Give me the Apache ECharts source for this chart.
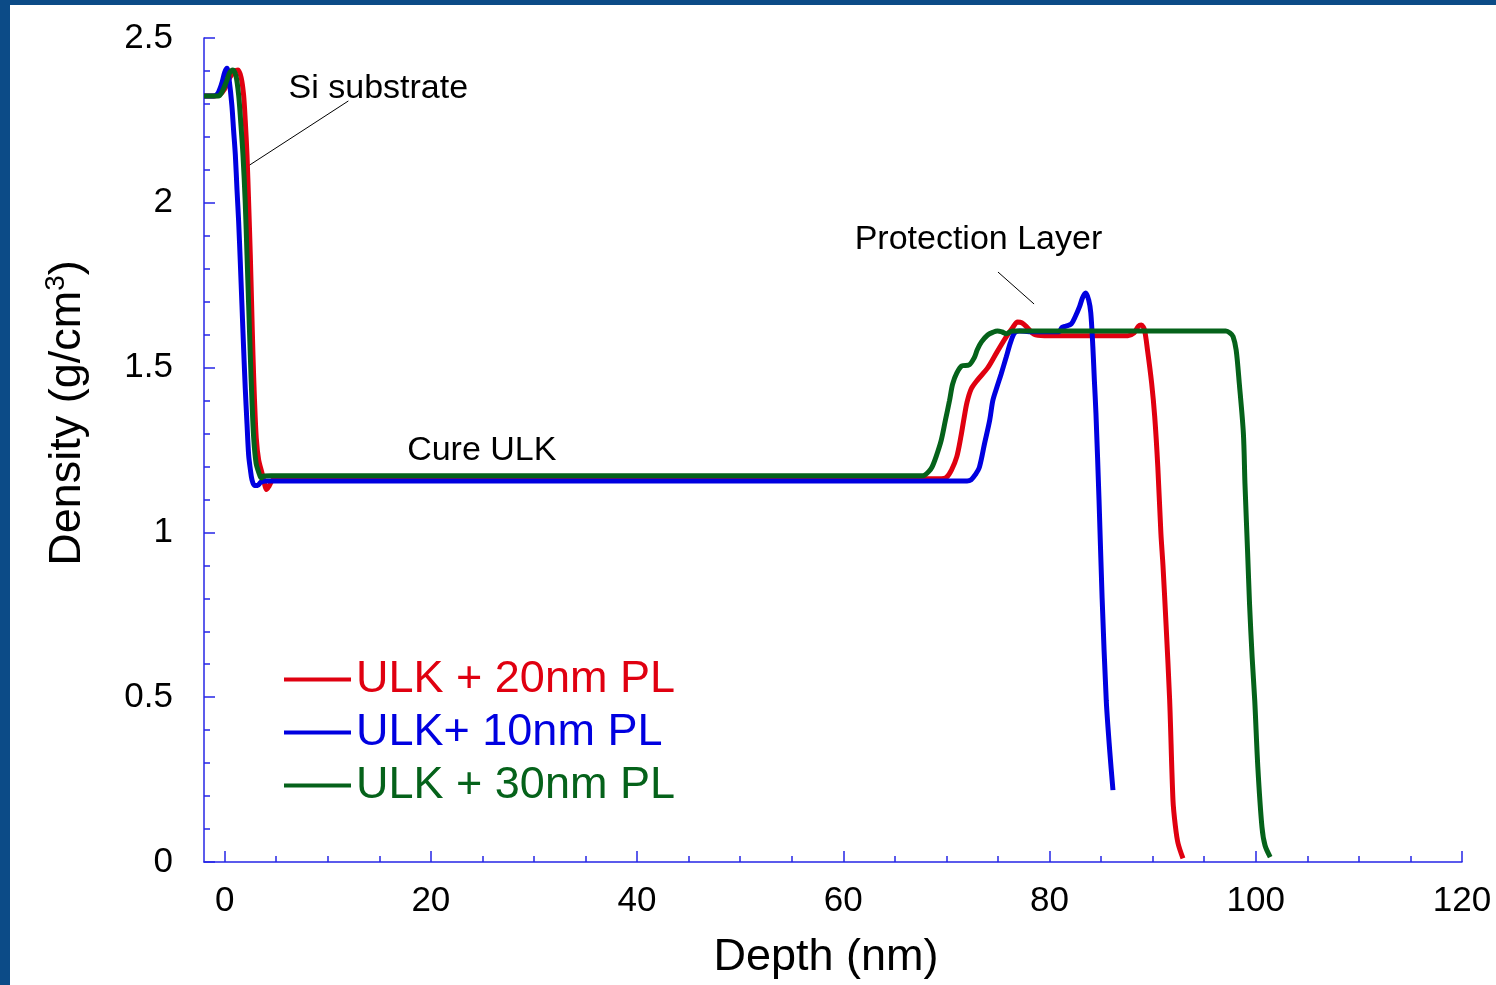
<!DOCTYPE html>
<html>
<head>
<meta charset="utf-8">
<script src="https://cdn.jsdelivr.net/npm/echarts@6/dist/echarts.min.js"></script>
<style>
  html, body { margin: 0; padding: 0; background: #0c4b87; }
  #chart { position: absolute; left: 10px; top: 5px; width: 1486px; height: 980px; background: #fff; }
</style>
</head>
<body>
<div id="chart"></div>
<script>
// depth (nm), density (g/cm3)
const red20 = [
  [-2,2.324],[-1,2.324],[-0.5,2.327],[0,2.345],[0.5,2.38],[1.0,2.40],[1.3,2.403],[1.6,2.38],[1.84,2.327],
  [2.0,2.25],[2.17,2.145],[2.33,2.0],[2.49,1.842],[2.62,1.69],[2.75,1.538],[2.9,1.40],[3.07,1.286],
  [3.3,1.22],[3.6,1.183],[3.85,1.15],[4.05,1.13],[4.3,1.14],[4.7,1.16],[5.5,1.163],[30,1.163],[60,1.163],
  [69.5,1.163],[70.0,1.167],[70.5,1.19],[71.0,1.229],[71.4,1.29],[71.7,1.345],[72.0,1.395],[72.4,1.435],
  [73.0,1.462],[74.0,1.499],[74.9,1.547],[75.8,1.593],[76.4,1.62],[76.9,1.638],[77.3,1.636],[77.8,1.623],
  [78.5,1.601],[79.5,1.597],[87.6,1.597],[88.2,1.605],[88.6,1.625],[88.9,1.629],[89.2,1.615],[89.5,1.553],
  [89.9,1.453],[90.2,1.351],[90.5,1.199],[90.8,0.997],[91.0,0.90],[91.3,0.72],[91.65,0.49],[91.97,0.188],
  [92.2,0.11],[92.46,0.057],[92.94,0.011]
];
const blue10 = [
  [-2,2.324],[-1.1,2.324],[-0.7,2.33],[-0.3,2.36],[0,2.395],[0.23,2.408],[0.45,2.37],[0.7,2.297],
  [0.87,2.22],[1.04,2.145],[1.2,2.04],[1.36,1.943],[1.52,1.82],[1.68,1.69],[1.84,1.56],[2.0,1.438],
  [2.17,1.33],[2.33,1.235],[2.5,1.19],[2.65,1.16],[2.9,1.142],[3.2,1.142],[3.5,1.152],[4.0,1.156],
  [30,1.156],[60,1.156],[72.0,1.156],[72.4,1.16],[72.8,1.175],[73.2,1.198],[73.7,1.27],[74.2,1.341],
  [74.5,1.40],[74.9,1.441],[75.3,1.48],[75.8,1.532],[76.2,1.575],[76.6,1.605],[77.1,1.611],[78,1.609],
  [80.9,1.609],[81.2,1.622],[81.6,1.626],[82.1,1.632],[82.5,1.655],[82.9,1.684],[83.2,1.712],[83.5,1.726],
  [83.8,1.705],[84.0,1.666],[84.2,1.563],[84.35,1.46],[84.5,1.362],[84.8,1.098],[85.1,0.80],[85.5,0.49],
  [85.83,0.34],[86.15,0.218]
];
const green30 = [
  [-2,2.324],[-0.6,2.324],[-0.2,2.34],[0.2,2.37],[0.5,2.395],[0.8,2.403],[1.1,2.385],[1.36,2.327],
  [1.55,2.25],[1.78,2.145],[2.0,2.0],[2.17,1.842],[2.33,1.69],[2.49,1.538],[2.65,1.40],[2.82,1.286],
  [3.05,1.21],[3.3,1.183],[3.55,1.165],[3.8,1.171],[4.5,1.172],[30,1.172],[60,1.172],[67.6,1.172],
  [67.9,1.174],[68.3,1.185],[68.6,1.198],[69.0,1.23],[69.5,1.28],[69.9,1.34],[70.3,1.40],[70.6,1.45],
  [71.0,1.483],[71.5,1.505],[72.2,1.508],[72.7,1.53],[73.0,1.555],[73.4,1.578],[74.0,1.599],[74.5,1.607],
  [74.95,1.611],[75.4,1.608],[75.8,1.603],[76.4,1.611],[80,1.611],[97.1,1.611],[97.5,1.605],[97.8,1.594],
  [98.1,1.553],[98.4,1.453],[98.8,1.30],[98.95,1.149],[99.2,0.947],[99.4,0.78],[99.65,0.62],[99.9,0.49],
  [100.2,0.288],[100.6,0.106],[100.9,0.05],[101.4,0.015]
];

const seriesNames = ['ULK + 20nm PL', 'ULK+ 10nm PL', 'ULK + 30nm PL'];
const seriesColors = ['#e00010', '#0000e0', '#05621a'];

const xMajorTicks = [0, 20, 40, 60, 80, 100, 120];
const xMinorTicks = [5, 10, 15, 25, 30, 35, 45, 50, 55, 65, 70, 75, 85, 90, 95, 105, 110, 115];

// annotation text [label, depth, density] and leader lines in data units
const notes = [['Si substrate', 6.2, 2.345], ['Protection Layer', 61.1, 1.887], ['Cure ULK', 17.7, 1.247]];
const leaders = [[[12.0, 2.309], [2.2, 2.11]], [[75.0, 1.79], [78.5, 1.693]]];

const FONT = '"Liberation Sans", Arial, sans-serif';
const AXIS_BLUE = '#2626e6';

const chart = echarts.init(document.getElementById('chart'));

chart.setOption({
  animation: false,
  backgroundColor: '#fff',
  textStyle: { fontFamily: FONT },
  grid: { left: 194, top: 33, width: 1258, height: 824 },
  legend: {
    orient: 'vertical',
    left: 269,
    top: 647,
    icon: 'rect',
    itemWidth: 67,
    itemHeight: 4,
    itemGap: 8,
    textStyle: { fontSize: 45, lineHeight: 45, fontFamily: FONT },
    data: seriesNames.map((n, i) => ({
      name: n,
      itemStyle: { color: seriesColors[i] },
      textStyle: { color: seriesColors[i] }
    }))
  },
  xAxis: [{
    type: 'value',
    min: -2,
    max: 120,
    name: 'Depth (nm)',
    nameLocation: 'middle',
    nameGap: 73,
    nameTextStyle: { fontSize: 45, color: '#000', fontFamily: FONT, padding: [0, 14, 0, 0] },
    axisLine: { show: true, onZero: false, lineStyle: { color: AXIS_BLUE, width: 1.5 } },
    axisTick: { show: true, inside: true, length: 11, customValues: xMajorTicks, lineStyle: { color: AXIS_BLUE, width: 1.5 } },
    axisLabel: { customValues: xMajorTicks, fontSize: 35, color: '#000', margin: 22 },
    splitLine: { show: false }
  }, {
    type: 'value',
    min: -2,
    max: 120,
    position: 'bottom',
    axisLine: { show: false, onZero: false },
    axisTick: { show: true, inside: true, length: 6, customValues: xMinorTicks, lineStyle: { color: AXIS_BLUE, width: 1.5 } },
    axisLabel: { show: false },
    splitLine: { show: false }
  }],
  yAxis: {
    type: 'value',
    min: 0,
    max: 2.5,
    interval: 0.5,
    name: '{a|Density (g/cm}{s|3}{a|)}',
    nameLocation: 'middle',
    nameGap: 110,
    nameTextStyle: {
      padding: [0, 0, 0, 74],
      rich: {
        a: { fontSize: 45, color: '#000', fontFamily: FONT },
        s: { fontSize: 28, color: '#000', fontFamily: FONT, padding: [0, 0, 24, 0] }
      }
    },
    axisLine: { show: true, onZero: false, lineStyle: { color: AXIS_BLUE, width: 1.5 } },
    axisTick: { show: true, inside: true, length: 11, lineStyle: { color: AXIS_BLUE, width: 1.5 } },
    minorTick: { show: true, splitNumber: 5, length: 6, lineStyle: { color: AXIS_BLUE, width: 1.5 } },
    axisLabel: { fontSize: 35, color: '#000', margin: 31 },
    splitLine: { show: false }
  },
  series: [red20, blue10, green30].map((d, i) => ({
    name: seriesNames[i],
    type: 'line',
    data: d,
    showSymbol: false,
    smooth: 0.3,
    lineStyle: { color: seriesColors[i], width: 5 },
    itemStyle: { color: seriesColors[i] }
  }))
});

// annotations placed from data coordinates
const px = p => chart.convertToPixel({ gridIndex: 0 }, p);
const graphics = [];
notes.forEach(([t, x, y]) => {
  const [gx, gy] = px([x, y]);
  graphics.push({
    type: 'text', x: gx, y: gy,
    style: { text: t, fontSize: 34, fontFamily: FONT, fill: '#000', textAlign: 'left', textVerticalAlign: 'middle' }
  });
});
leaders.forEach(([a, b]) => {
  const [x1, y1] = px(a), [x2, y2] = px(b);
  graphics.push({ type: 'line', shape: { x1, y1, x2, y2 }, style: { stroke: '#000', lineWidth: 1 } });
});
chart.setOption({ graphic: graphics });
</script>
</body>
</html>
